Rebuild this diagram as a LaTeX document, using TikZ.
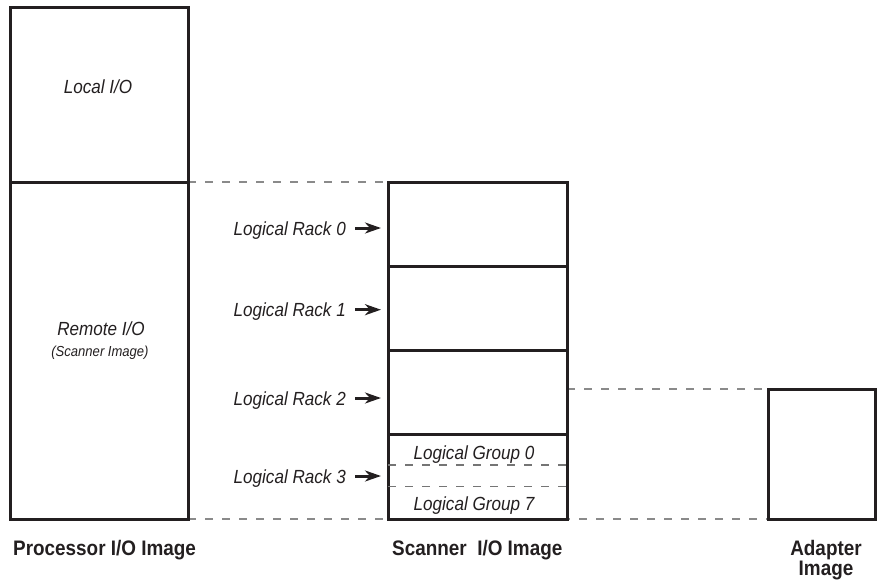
\documentclass[tikz,border=0pt]{standalone}
\usepackage{fontspec}
\setmainfont{Liberation Sans}
\newfontfamily\narrowfont[FakeStretch=0.9]{Liberation Sans}
\usetikzlibrary{arrows.meta,calc}
\definecolor{ink}{HTML}{231F20}
\definecolor{dashgray}{HTML}{8A8A8A}
\pgfdeclarelayer{background}
\pgfsetlayers{background,main}
\begin{document}
\begin{tikzpicture}[x=1pt,y=-1pt,
  box/.style={draw=ink, line width=3pt, fill=white, inner sep=0pt, outer sep=0pt, rectangle, anchor=north west},
  divider/.style={draw=ink, line width=3pt},
  guide/.style={draw=dashgray, line width=1.4pt, dash pattern=on 8pt off 9pt},
  groupline/.style={draw=dashgray!85!black, line width=1.4pt, dash pattern=on 8pt off 9pt},
  itlabel/.style={font=\narrowfont\itshape\fontsize{19}{22}\selectfont, text=ink, inner sep=0pt},
  smalllabel/.style={font=\narrowfont\itshape\fontsize{14.5}{17}\selectfont, text=ink, inner sep=0pt},
  caption/.style={font=\narrowfont\bfseries\fontsize{21}{18}\selectfont, text=ink, inner sep=0pt},
  rackarrow/.style={draw=ink, line width=3pt, shorten >=7pt, -{Stealth[length=16pt,width=11pt,inset=5pt]}}
]
\useasboundingbox (0,0) rectangle (878,584);

% boxes
\node[box, minimum width=178pt, minimum height=512pt] (proc) at (10,7) {};
\node[box, minimum width=179pt, minimum height=337pt] (scan) at (388,182) {};
\node[box, minimum width=107pt, minimum height=130pt] (adapt) at (768,389) {};

% dashed guide lines (behind the boxes)
\begin{pgfonlayer}{background}
\draw[guide] (proc.east |- scan.north) -- (scan.north west);
\draw[guide] (proc.south east) -- (adapt.south west);
\draw[guide] (scan.east |- adapt.north) -- (adapt.north west);
\end{pgfonlayer}

% processor divider
\draw[divider] (proc.west |- scan.north) -- (proc.east |- scan.north);

% scanner dividers
\coordinate (d1) at ($(scan.north west)!0.25!(scan.south west)$);
\coordinate (d2) at ($(scan.north west)!0.50!(scan.south west)$);
\coordinate (d3) at ($(scan.north west)!0.75!(scan.south west)$);
\coordinate (g1) at ($(scan.north west)!0.84!(scan.south west)$);
\coordinate (g2) at ($(scan.north west)!0.903!(scan.south west)$);
\draw[divider] (d1) -- (d1 -| scan.east);
\draw[divider] (d2) -- (d2 -| scan.east);
\draw[divider] (d3) -- (d3 -| scan.east);
\draw[groupline] (g1) -- ([xshift=4pt]g1 -| scan.east);
\draw[groupline] (g2) -- ([xshift=4pt]g2 -| scan.east);

% texts in processor box
\node[itlabel, anchor=base] (local) at (98,93) {Local I/O};
\node[itlabel, anchor=base] (remote) at (101,335) {Remote I/O};
\node[smalllabel, anchor=base] (scanimg) at (100,356) {(Scanner Image)};

% logical groups
\node[itlabel, anchor=base] (grp0) at (474,459) {Logical Group 0};
\node[itlabel, anchor=base] (grp7) at (474,510.7) {Logical Group 7};

% logical racks
\node[itlabel, anchor=base east] (rk0) at (346,235) {Logical Rack 0};
\node[itlabel, anchor=base east] (rk1) at (346,316.7) {Logical Rack 1};
\node[itlabel, anchor=base east] (rk2) at (346,405) {Logical Rack 2};
\node[itlabel, anchor=base east] (rk3) at (346,483) {Logical Rack 3};
\foreach \r in {rk0,rk1,rk2,rk3}
  \draw[rackarrow] ([xshift=9pt,yshift=7pt]\r.base east) -- ([yshift=7pt]\r.base east -| scan.west);

% captions
\node[caption, anchor=base west] (capproc) at (13,555) {Processor I/O Image};
\node[caption, anchor=base west] (capscan) at (392,555) {Scanner\ \ I/O Image};
\node[caption, anchor=north, align=center] (capadapt) at (826,540) {Adapter\\Image};
\end{tikzpicture}
\end{document}
